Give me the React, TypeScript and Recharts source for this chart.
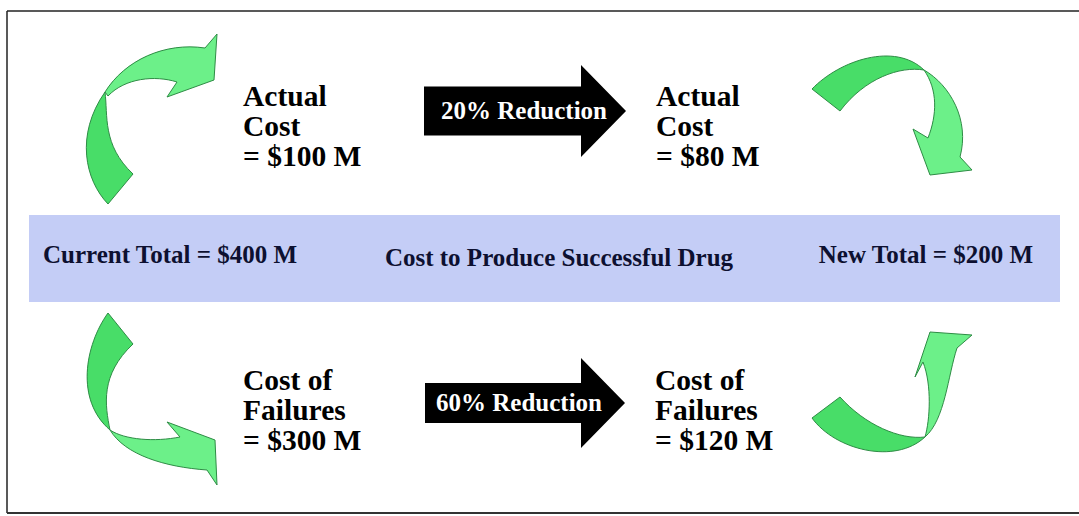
import React from "react";
import { ScatterChart, Scatter, XAxis, YAxis, ReferenceArea, ReferenceLine } from "recharts";

// ---------- data ----------
const stageNames = ["Current", "New"];
const actualCost = [100, 80]; // $M
const failureCost = [300, 120]; // $M
const totalCost = [400, 200]; // $M
const reductionPct = [20, 60]; // actual cost, failures
const bandTitle = "Cost to Produce Successful Drug";

// ---------- layout (positions only) ----------
const W = 1079;
const H = 516;
const FONT = "'Liberation Serif', 'Times New Roman', Times, serif";
const blockPos = [
  { x: 243, y: 106 },
  { x: 656, y: 106 },
  { x: 243, y: 390 },
  { x: 655, y: 390 },
];
const bandPos = [
  { x: 43, y: 263, anchor: "start" },
  { x: 559, y: 266, anchor: "middle" },
  { x: 1033, y: 263, anchor: "end" },
];
const arrowPos = [
  { x: 424, y: 111, body: 157, bh: 24.5, hh: 46, head: 45, tx: 524, ty: 119 },
  { x: 425, y: 403, body: 156, bh: 20, hh: 45, head: 44, tx: 519, ty: 411 },
];
const greenPos = [
  { x: 70, y: 20, kind: 0 },
  { x: 800, y: 40, kind: 1 },
  { x: 70, y: 305, kind: 2 },
  { x: 800, y: 295, kind: 3 },
];

// curved ribbon arrow outlines, local to their anchor
const greenShapes = [
  {
    back: "M38,184 C15,160 5,115 35,72 C38,95 32,125 63,154 Z",
    front:
      "M35,72 C55,40 95,22 135,28 L147,14 L144,60 L97,77 L107,62 C85,55 55,58 38,76 Z",
  },
  {
    back: "M12,49 C40,20 95,2 124,30 C100,26 65,38 40,71 Z",
    front:
      "M124,30 C150,45 170,80 160,117 L172,130 L130,135 L113,89 L128,98 C137,75 138,50 124,30 Z",
  },
  {
    back: "M38,8 C15,40 5,95 40,125 C35,100 30,70 63,39 Z",
    front:
      "M40,125 C55,150 95,162 137,165 L147,180 L145,135 L97,117 L110,132 C85,137 55,135 40,125 Z",
  },
  {
    back: "M12,123 C35,155 95,170 125,142 C100,145 65,130 40,102 Z",
    front:
      "M125,142 C145,125 148,80 157,53 L172,40 L130,37 L115,82 L123,67 C132,90 130,125 125,142 Z",
  },
];

// ---------- derived tables ----------
const blockLines = [
  ["Actual", "Cost", `= $${actualCost[0]} M`],
  ["Actual", "Cost", `= $${actualCost[1]} M`],
  ["Cost of", "Failures", `= $${failureCost[0]} M`],
  ["Cost of", "Failures", `= $${failureCost[1]} M`],
];
const blockData = blockLines.map((lines, i) => ({ ...blockPos[i], lines }));
const bandTexts = [
  `${stageNames[0]} Total = $${totalCost[0]} M`,
  bandTitle,
  `${stageNames[1]} Total = $${totalCost[1]} M`,
];
const bandData = bandTexts.map((label, i) => ({ ...bandPos[i], label }));
const arrowData = reductionPct.map((p, i) => ({ ...arrowPos[i], label: `${p}% Reduction` }));
const greenData = greenPos;

const BlockShape = (props: any) => {
  const { cx, cy, payload } = props;
  return (
    <text x={cx} y={cy} fontFamily={FONT} fontWeight="bold" fontSize={29.5} fill="#000">
      {payload.lines.map((l: string, i: number) => (
        <tspan key={i} x={cx} dy={i === 0 ? 0 : 30}>
          {l}
        </tspan>
      ))}
    </text>
  );
};

const BandText = (props: any) => {
  const { cx, cy, payload } = props;
  return (
    <text
      x={cx}
      y={cy}
      textAnchor={payload.anchor}
      fontFamily={FONT}
      fontWeight="bold"
      fontSize={25}
      fill="#0d1030"
    >
      {payload.label}
    </text>
  );
};

const BlackArrow = (props: any) => {
  const { cx, cy, payload: p } = props;
  const pts = [
    [0, -p.bh],
    [p.body, -p.bh],
    [p.body, -p.hh],
    [p.body + p.head, 0],
    [p.body, p.hh],
    [p.body, p.bh],
    [0, p.bh],
  ]
    .map(([a, b]) => `${cx + a},${cy + b}`)
    .join(" ");
  return (
    <g>
      <polygon points={pts} fill="#000" />
      <text
        x={cx + (p.tx - p.x)}
        y={cy + (p.ty - p.y)}
        textAnchor="middle"
        fontFamily={FONT}
        fontWeight="bold"
        fontSize={25}
        fill="#fff"
      >
        {p.label}
      </text>
    </g>
  );
};

const GreenArrow = (props: any) => {
  const { cx, cy, payload } = props;
  const s = greenShapes[payload.kind];
  return (
    <g transform={`translate(${cx},${cy})`}>
      <path d={s.back} fill="#48DD68" stroke="#2E8C45" strokeWidth={1} strokeLinejoin="round" />
      <path d={s.front} fill="#6CF089" stroke="#2E8C45" strokeWidth={1} strokeLinejoin="round" />
    </g>
  );
};

export default function App() {
  return (
    <div style={{ position: "absolute", left: 0, top: 0, width: W, height: H, background: "#fff" }}>
      <ScatterChart width={W} height={H} margin={{ top: 0, right: 0, bottom: 0, left: 0 }}>
        <XAxis type="number" dataKey="x" domain={[0, W]} hide allowDataOverflow />
        <YAxis type="number" dataKey="y" domain={[0, H]} reversed hide allowDataOverflow />
        <ReferenceArea x1={29} x2={1060} y1={215} y2={302} fill="#C4CDF6" fillOpacity={1} stroke="none" />
        <ReferenceLine segment={[{ x: 7, y: 11 }, { x: W, y: 11 }]} stroke="#222" strokeWidth={1.5} />
        <ReferenceLine segment={[{ x: 7, y: 11 }, { x: 7, y: 513 }]} stroke="#222" strokeWidth={1.5} />
        <ReferenceLine segment={[{ x: 7, y: 513 }, { x: W, y: 513 }]} stroke="#333" strokeWidth={2} />
        <Scatter data={greenData} shape={GreenArrow} isAnimationActive={false} />
        <Scatter data={arrowData} shape={BlackArrow} isAnimationActive={false} />
        <Scatter data={blockData} shape={BlockShape} isAnimationActive={false} />
        <Scatter data={bandData} shape={BandText} isAnimationActive={false} />
      </ScatterChart>
    </div>
  );
}
